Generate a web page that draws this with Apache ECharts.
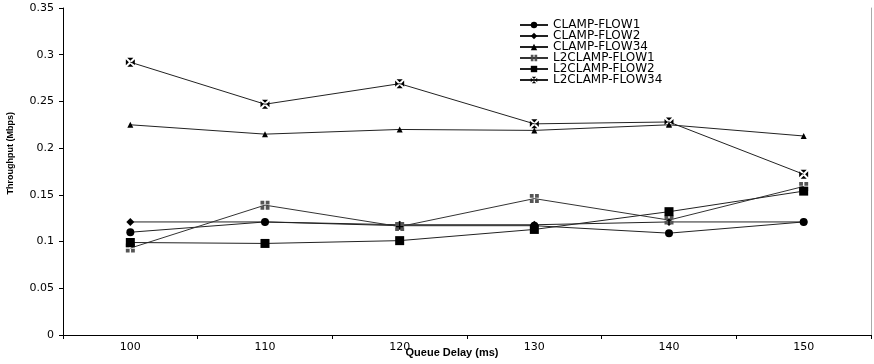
<!DOCTYPE html>
<html>
<head>
<meta charset="utf-8">
<script src="https://cdn.jsdelivr.net/npm/echarts@6/dist/echarts.min.js"></script>
<style>html,body{margin:0;padding:0;background:#fff}#c{width:874px;height:364px}</style>
</head>
<body>
<div id="c"></div>
<script>
var categories = ['100', '110', '120', '130', '140', '150'];
var clampFlow1 = [0.110, 0.121, 0.117, 0.117, 0.109, 0.121];
var clampFlow2 = [0.121, 0.121, 0.118, 0.118, 0.121, 0.121];
var clampFlow34 = [0.225, 0.215, 0.220, 0.219, 0.225, 0.213];
var l2clampFlow1 = [0.093, 0.139, 0.116, 0.146, 0.123, 0.159];
var l2clampFlow2 = [0.099, 0.098, 0.101, 0.113, 0.132, 0.154];
var l2clampFlow34 = [0.292, 0.247, 0.269, 0.226, 0.228, 0.172];
var yTicks = { min: 0, max: 0.35, interval: 0.05 };

var crossSquare = 'path://M0,0H4.2V4.2H0Z M5.8,0H10V4.2H5.8Z M0,5.8H4.2V10H0Z M5.8,5.8H10V10H5.8Z';
var xSquare = 'path://M1.6,0L8.4,0L5,3.4Z M1.6,10L8.4,10L5,6.6Z M0,1.6L0,8.4L3.4,5Z M10,1.6L10,8.4L6.6,5Z';
var FONT = 'DejaVu Sans, Liberation Sans, Arial, sans-serif';

function mk(name, data, symbol, size, color, lineColor) {
  return {
    name: name, type: 'line', data: data, symbol: symbol, symbolSize: size,
    showSymbol: true, animation: false,
    lineStyle: { width: 1, color: lineColor || '#222' },
    itemStyle: { color: color, borderWidth: 0 },
    emphasis: { disabled: true }
  };
}

var chart = echarts.init(document.getElementById('c'), null, { renderer: 'canvas' });
chart.setOption({
  animation: false,
  backgroundColor: '#fff',
  textStyle: { fontFamily: FONT },
  grid: { left: 63, right: 3, top: 8, bottom: 29, containLabel: false, outerBoundsMode: 'none' },
  legend: {
    orient: 'vertical', left: 514, top: 14, padding: 5,
    itemWidth: 28, itemHeight: 8, itemGap: -1,
    textStyle: { fontSize: 12, color: '#000', lineHeight: 11, fontFamily: FONT },
    data: ['CLAMP-FLOW1', 'CLAMP-FLOW2', 'CLAMP-FLOW34', 'L2CLAMP-FLOW1', 'L2CLAMP-FLOW2', 'L2CLAMP-FLOW34']
  },
  xAxis: {
    type: 'category', data: categories, boundaryGap: true,
    name: 'Queue Delay (ms)', nameLocation: 'middle', nameGap: 12, nameMoveOverlap: false,
    nameTextStyle: { fontSize: 11, fontWeight: 'bold', color: '#000', padding: [0, 30, 0, 0], fontFamily: 'Liberation Sans, Arial, sans-serif' },
    axisLine: { lineStyle: { color: '#000', width: 1 } },
    axisTick: { show: true, length: 4, lineStyle: { color: '#000' } },
    axisLabel: { fontSize: 11, color: '#000', margin: 7 },
    splitLine: { show: false }
  },
  yAxis: [{
    type: 'value', min: yTicks.min, max: yTicks.max, interval: yTicks.interval,
    axisLine: { show: true, lineStyle: { color: '#000', width: 1 } },
    axisTick: { show: true, length: 4, lineStyle: { color: '#000' } },
    axisLabel: { fontSize: 11, color: '#000', margin: 9 },
    splitLine: { show: false }
  }, {
    type: 'value', min: yTicks.min, max: yTicks.max, interval: yTicks.interval, position: 'right',
    axisLine: { show: true, lineStyle: { color: '#aaa', width: 1 } },
    axisTick: { show: false }, axisLabel: { show: false }, splitLine: { show: false }
  }],
  graphic: [{
    type: 'text', left: 6, top: 112, rotation: Math.PI / 2,
    style: { text: 'Throughput (Mbps)', font: 'bold 9px Liberation Sans, Arial, sans-serif', fill: '#000' }
  }],
  series: [
    mk('CLAMP-FLOW1', clampFlow1, 'circle', 8, '#000'),
    mk('CLAMP-FLOW2', clampFlow2, 'diamond', 8, '#000'),
    mk('CLAMP-FLOW34', clampFlow34, 'triangle', 6, '#000'),
    mk('L2CLAMP-FLOW1', l2clampFlow1, crossSquare, 9, '#555', '#333'),
    mk('L2CLAMP-FLOW2', l2clampFlow2, 'rect', 9, '#000'),
    mk('L2CLAMP-FLOW34', l2clampFlow34, xSquare, 9, '#000')
  ]
});
</script>
</body>
</html>
